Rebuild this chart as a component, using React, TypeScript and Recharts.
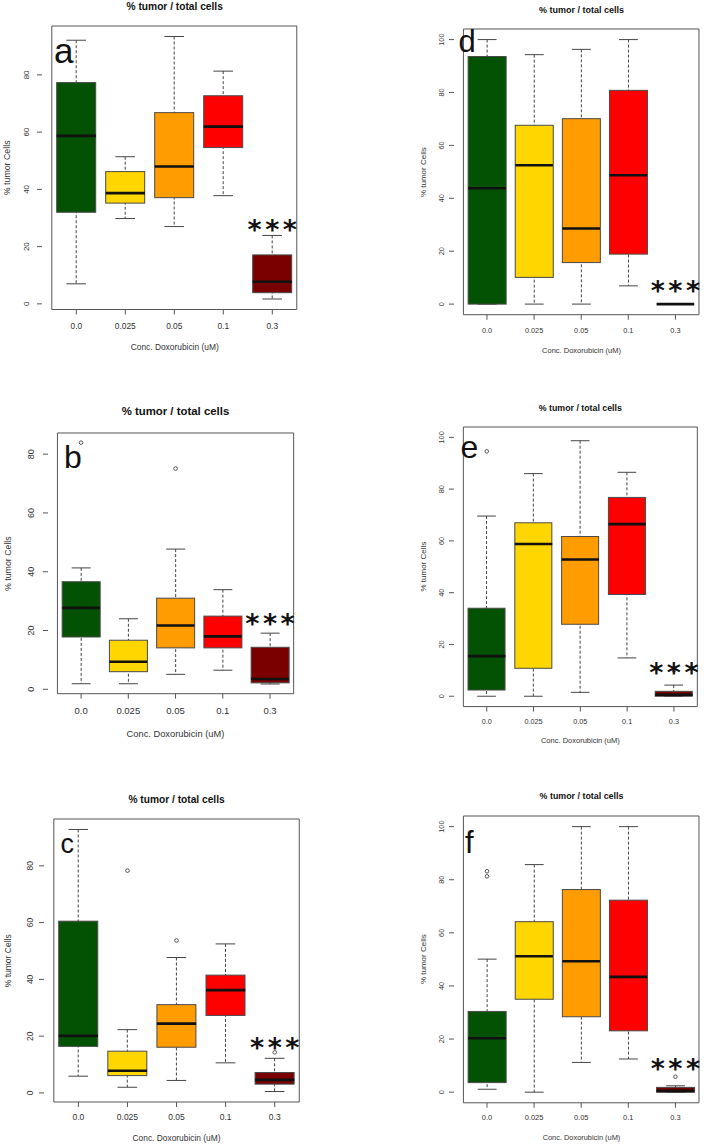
import React from "react";
import { ComposedChart, Bar, Scatter, XAxis, YAxis, Cell, ReferenceArea } from "recharts";

const FONT = '"Liberation Sans", Arial, sans-serif';
const STAR_FONT = '"DejaVu Sans", sans-serif';

const doses = ["0.0", "0.025", "0.05", "0.1", "0.3"];
const boxColors = ["#035203", "#FFD600", "#FF9C00", "#FF0000", "#7A0000"];
const titleText = "% tumor / total cells";
const xLabelText = "Conc. Doxorubicin (uM)";
const yLabelText = "% tumor Cells";
const starText = "***";

// per dose: [lower whisker, Q1, median, Q3, upper whisker]
const statsA = [
  [7.0, 32.0, 58.7, 77.3, 92.1],
  [29.8, 35.2, 38.7, 46.2, 51.4],
  [27.0, 37.1, 48.0, 66.8, 93.4],
  [37.8, 54.6, 61.9, 72.7, 81.3],
  [1.7, 3.9, 7.7, 17.1, 23.9],
];
const statsB = [
  [1.9, 17.8, 27.7, 36.6, 41.3],
  [1.9, 6.0, 9.4, 16.7, 24.0],
  [5.1, 14.1, 21.7, 31.0, 47.7],
  [6.5, 14.1, 18.0, 24.9, 33.9],
  [1.8, 2.2, 3.5, 14.3, 19.1],
];
const statsC = [
  [5.9, 16.4, 20.1, 60.5, 92.8],
  [2.0, 6.1, 7.8, 14.7, 22.3],
  [4.4, 16.1, 24.4, 31.1, 47.7],
  [10.6, 27.3, 36.2, 41.5, 52.5],
  [0.5, 3.1, 4.6, 7.2, 12.2],
];
const statsD = [
  [0, 0, 43.8, 93.6, 100],
  [0, 10.1, 52.5, 67.6, 94.3],
  [0, 15.7, 28.6, 70.1, 96.3],
  [6.9, 18.9, 48.7, 80.8, 100],
  [0, 0, 0, 0, 0],
];
const statsE = [
  [0, 2.4, 15.5, 34.0, 69.6],
  [0, 10.8, 58.8, 67.0, 86.0],
  [1.5, 27.8, 52.8, 61.7, 98.7],
  [14.8, 39.3, 66.5, 76.8, 86.5],
  [0, 0, 0.6, 1.9, 4.3],
];
const statsF = [
  [1.1, 3.6, 20.3, 30.4, 50.1],
  [0, 35.0, 51.2, 64.2, 85.7],
  [11.2, 28.4, 49.3, 76.3, 100],
  [12.5, 23.1, 43.4, 72.3, 100],
  [0, 0, 0.5, 1.8, 2.4],
];

const outliersA: [string, number][] = [];
const outliersB: [string, number][] = [["0.0", 83.9], ["0.05", 75.1]];
const outliersC: [string, number][] = [["0.025", 78.3], ["0.05", 53.7], ["0.3", 14.3]];
const outliersD: [string, number][] = [];
const outliersE: [string, number][] = [["0.0", 94.6], ["0.3", 10.0]];
const outliersF: [string, number][] = [["0.0", 81.3], ["0.0", 83.2], ["0.3", 5.8]];

// y-range before R's 4% extension
const limitsA = [1.7, 93.4];
const limitsB = [1.8, 83.9];
const limitsC = [0.5, 92.8];
const limitsRight = [0, 100];

const ticksLeft = [0, 20, 40, 60, 80];
const ticksRight = [0, 20, 40, 60, 80, 100];

const panels = [
  { letter: "a", stats: statsA, outliers: outliersA, limits: limitsA, ticks: ticksLeft,
    x: 42.4, y: 26.1, w: 264.6, h: 283.5, titleY: 6, titleFs: 10.2, tickFs: 8.4, tickDy: 16.2,
    xlabY: 346.7, labFs: 8.4, ylabX: 6.7, ylabFs: 8.8, yTickFs: 8, yTickDx: 16,
    letterX: 54, letterY: 63.3, letterFs: 35, starDy: 12.6 },
  { letter: "b", stats: statsB, outliers: outliersB, limits: limitsB, ticks: ticksLeft,
    x: 47.9, y: 433.3, w: 255.1, h: 260.7, titleY: 411, titleFs: 11.4, tickFs: 9.5, tickDy: 17,
    xlabY: 733.3, labFs: 9.3, ylabX: 8.3, ylabFs: 8.8, yTickFs: 9, yTickDx: 17,
    letterX: 64, letterY: 468.3, letterFs: 32, starDy: 16 },
  { letter: "c", stats: statsC, outliers: outliersC, limits: limitsC, ticks: ticksLeft,
    x: 44, y: 819.3, w: 265.1, h: 283, titleY: 799.3, titleFs: 10.2, tickFs: 8.5, tickDy: 15.4,
    xlabY: 1138.3, labFs: 8.4, ylabX: 8.3, ylabFs: 8.5, yTickFs: 8.5, yTickDx: 14.5,
    letterX: 60.5, letterY: 853.3, letterFs: 27, starDy: 16.8 },
  { letter: "d", stats: statsD, outliers: outliersD, limits: limitsRight, ticks: ticksRight,
    x: 454.3, y: 29.3, w: 254.4, h: 285.7, titleY: 10, titleFs: 9, tickFs: 7.3, tickDy: 15.7,
    xlabY: 350.7, labFs: 7.5, ylabX: 423, ylabFs: 8, yTickFs: 7.4, yTickDx: 13,
    letterX: 458.5, letterY: 51.7, letterFs: 31, starDy: 19.3 },
  { letter: "e", stats: statsE, outliers: outliersE, limits: limitsRight, ticks: ticksRight,
    x: 454, y: 426.8, w: 252.7, h: 279.6, titleY: 408, titleFs: 8.8, tickFs: 7.3, tickDy: 15,
    xlabY: 740, labFs: 7.5, ylabX: 422.7, ylabFs: 8, yTickFs: 7.4, yTickDx: 13,
    letterX: 460.5, letterY: 458.3, letterFs: 32, starDy: 19.2 },
  { letter: "f", stats: statsF, outliers: outliersF, limits: limitsRight, ticks: ticksRight,
    x: 454.3, y: 815.8, w: 254.4, h: 286.8, titleY: 796, titleFs: 8.9, tickFs: 7.5, tickDy: 15,
    xlabY: 1137.7, labFs: 7.4, ylabX: 423.3, ylabFs: 8, yTickFs: 7.4, yTickDx: 13,
    letterX: 465, letterY: 853.3, letterFs: 31, starDy: 23.9 },
];

const L = 40, T = 14, R = 8, B = 34;
const STAR_FS = 27;
const STAR_GAP = 3.5;

const XTick = (props: any) => {
  const { x, y, payload, fs, dy } = props;
  return (
    <text x={x} y={y - 5 + dy + 0.35 * fs} textAnchor="middle" fontSize={fs} fill="#333" fontFamily={FONT}>
      {payload.value}
    </text>
  );
};

const YTick = (props: any) => {
  const { x, y, payload, fs, dx } = props;
  const bx = x + 5 - dx + 0.36 * fs;
  return (
    <text x={bx} y={y} transform={`rotate(-90 ${bx} ${y})`} textAnchor="middle" fontSize={fs} fill="#333" fontFamily={FONT}>
      {payload.value}
    </text>
  );
};

function BoxPanel({ p }: { p: any }) {
  const band = p.w / 5.4;
  const pad = band * 0.2;
  const bw = band * 0.8;
  const span = p.limits[1] - p.limits[0];
  const domain = [p.limits[0] - 0.04 * span, p.limits[1] + 0.04 * span];

  const rows = doses.map((dose, i) => {
    const [lo, q1, med, q3, hi] = p.stats[i];
    return { dose, whisk: [lo, hi], box: [q1, q3], med };
  });
  const outs = p.outliers.map(([dose, v]: [string, number]) => ({ dose, out: v }));
  const star = [{ dose: doses[4], star: p.stats[4][4] }];

  const whiskerShape = (s: any) => {
    const cx = s.x + s.width / 2;
    const top = Math.min(s.y, s.y + s.height);
    const bot = Math.max(s.y, s.y + s.height);
    const cap = bw / 4;
    return (
      <g>
        <line x1={cx} x2={cx} y1={top} y2={bot} stroke="#444" strokeWidth={1} strokeDasharray="3 2" />
        <line x1={cx - cap} x2={cx + cap} y1={top} y2={top} stroke="#444" strokeWidth={1} />
        <line x1={cx - cap} x2={cx + cap} y1={bot} y2={bot} stroke="#444" strokeWidth={1} />
      </g>
    );
  };

  const boxShape = (s: any) => {
    const top = Math.min(s.y, s.y + s.height);
    const h = Math.abs(s.height);
    return <rect x={s.x} y={top} width={s.width} height={h} fill={s.fill} stroke="#4a4a4a" strokeWidth={1} />;
  };

  const medianShape = (s: any) => (
    <line x1={s.cx - bw / 2} x2={s.cx + bw / 2} y1={s.cy} y2={s.cy} stroke="#111" strokeWidth={2.6} />
  );

  const outlierShape = (s: any) => (
    <circle cx={s.cx} cy={s.cy} r={1.8} fill="none" stroke="#444" strokeWidth={0.9} />
  );

  const starShape = (s: any) => (
    <text
      x={s.cx + STAR_GAP / 2}
      y={s.cy - p.starDy + 0.58 * STAR_FS}
      textAnchor="middle"
      fontSize={STAR_FS}
      fontWeight="bold"
      letterSpacing={STAR_GAP}
      fill="#111"
      fontFamily={STAR_FONT}
    >
      {starText}
    </text>
  );

  return (
    <div style={{ position: "absolute", left: p.x - L, top: p.y - T }}>
      <ComposedChart
        width={p.w + L + R}
        height={p.h + T + B}
        data={rows}
        margin={{ top: T, right: R, bottom: 0, left: 0 }}
        barCategoryGap="10%"
      >
        <XAxis xAxisId="w" dataKey="dose" hide padding={{ left: pad, right: pad }} />
        <XAxis
          dataKey="dose"
          allowDuplicatedCategory={false}
          padding={{ left: pad, right: pad }}
          height={B}
          axisLine={false}
          tickSize={5}
          tickMargin={0}
          tickLine={{ stroke: "#555" }}
          interval={0}
          tick={(tp: any) => <XTick {...tp} fs={p.tickFs} dy={p.tickDy} />}
        />
        <YAxis
          type="number"
          width={L}
          domain={domain}
          allowDataOverflow
          ticks={p.ticks}
          interval={0}
          axisLine={false}
          tickSize={5}
          tickMargin={0}
          tickLine={{ stroke: "#555" }}
          tick={(tp: any) => <YTick {...tp} fs={p.yTickFs} dx={p.yTickDx} />}
        />
        <ReferenceArea y1={domain[0]} y2={domain[1]} fill="none" stroke="#555" strokeWidth={1} ifOverflow="visible" />
        <Bar xAxisId="w" dataKey="whisk" shape={whiskerShape} isAnimationActive={false} />
        <Bar dataKey="box" shape={boxShape} isAnimationActive={false}>
          {doses.map((d, i) => (
            <Cell key={d} fill={boxColors[i]} />
          ))}
        </Bar>
        <Scatter dataKey="med" shape={medianShape} isAnimationActive={false} />
        <Scatter data={outs} dataKey="out" shape={outlierShape} isAnimationActive={false} />
        <Scatter data={star} dataKey="star" shape={starShape} isAnimationActive={false} />
      </ComposedChart>
    </div>
  );
}

export default function App() {
  return (
    <div style={{ position: "absolute", left: 0, top: 0, width: 710, height: 1145, background: "#fff", overflow: "hidden" }}>
      {panels.map((p) => (
        <BoxPanel key={p.letter} p={p} />
      ))}
      <svg width={710} height={1145} style={{ position: "absolute", left: 0, top: 0, pointerEvents: "none" }}>
        {panels.map((p) => {
          const cx = p.x + p.w / 2;
          const cy = p.y + p.h / 2;
          const yl = p.ylabX + 0.36 * p.ylabFs;
          return (
            <g key={p.letter} fontFamily={FONT}>
              <text x={cx} y={p.titleY + 0.35 * p.titleFs} textAnchor="middle" fontSize={p.titleFs} fontWeight="bold" fill="#111">
                {titleText}
              </text>
              <text x={cx} y={p.xlabY + 0.35 * p.labFs} textAnchor="middle" fontSize={p.labFs} fill="#333">
                {xLabelText}
              </text>
              <text x={yl} y={cy} transform={`rotate(-90 ${yl} ${cy})`} textAnchor="middle" fontSize={p.ylabFs} fill="#333">
                {yLabelText}
              </text>
              <text x={p.letterX} y={p.letterY} fontSize={p.letterFs} fill="#111">
                {p.letter}
              </text>
            </g>
          );
        })}
      </svg>
    </div>
  );
}
